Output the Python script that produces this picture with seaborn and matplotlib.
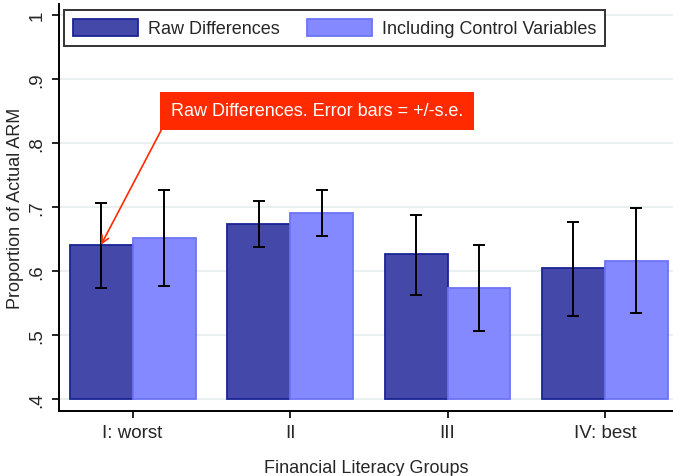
import pandas as pd
import matplotlib.pyplot as plt
import seaborn as sns

# values
groups = ["I: worst", "II", "III", "IV: best"]
series = ["Raw Differences", "Including Control Variables"]
raw_mean = [0.641, 0.674, 0.627, 0.605]
raw_lo = [0.573, 0.637, 0.562, 0.529]
raw_hi = [0.707, 0.710, 0.688, 0.677]
ctrl_mean = [0.652, 0.691, 0.574, 0.616]
ctrl_lo = [0.576, 0.654, 0.507, 0.534]
ctrl_hi = [0.727, 0.727, 0.640, 0.699]
y_ticks = [0.4, 0.5, 0.6, 0.7, 0.8, 0.9, 1.0]
y_ticklabels = [".4", ".5", ".6", ".7", ".8", ".9", "1"]

fills = {"Raw Differences": "#4448A8", "Including Control Variables": "#8589FF"}
edges = ["#1A2493", "#6C73F6"]
base = 0.4

sns.set_theme(style="white")
plt.rcParams["font.family"] = ["Liberation Sans", "DejaVu Sans"]

df = pd.DataFrame({
    "Group": groups * 2,
    "Series": [series[0]] * 4 + [series[1]] * 4,
    "Value": raw_mean + ctrl_mean,
    "Lo": raw_lo + ctrl_lo,
    "Hi": raw_hi + ctrl_hi,
})

fig = plt.figure(figsize=(6.73, 4.77), dpi=100)
ax = fig.add_axes([0.0877, 0.1373, 0.9123, 0.852])

sns.barplot(data=df, x="Group", y="Value", hue="Series", order=groups,
            hue_order=series, palette=fills, errorbar=None, width=0.8,
            saturation=1, legend=False, ax=ax)

# bars start at .4 like the original, and get their own edge colours
for cont, ec, s in zip(ax.containers, edges, series):
    sub = df[df["Series"] == s].set_index("Group").loc[groups]
    xs = []
    for rect in cont.patches:
        h = rect.get_height()
        rect.set_y(base)
        rect.set_height(h - base)
        rect.set_edgecolor(ec)
        rect.set_linewidth(1.3)
        rect.set_zorder(2)
        xs.append(rect.get_x() + rect.get_width() / 2)
    vals = sub["Value"].values
    yerr = [vals - sub["Lo"].values, sub["Hi"].values - vals]
    ax.errorbar(xs, vals, yerr=yerr, fmt="none", ecolor="black",
                elinewidth=1.4, capsize=4.5, capthick=1.4, zorder=3)

ax.set_xlim(-0.467, 3.432)
ax.set_ylim(0.382, 1.017)
ax.set_yticks(y_ticks)
ax.set_yticklabels(y_ticklabels, rotation=90, va="center")
ax.yaxis.grid(True, color="#E5EEEE", linewidth=1.2)
ax.set_axisbelow(True)

for side in ["top", "right"]:
    ax.spines[side].set_visible(False)
for side in ["left", "bottom"]:
    ax.spines[side].set_color("black")
    ax.spines[side].set_linewidth(1.4)
ax.tick_params(axis="both", which="major", direction="out", length=5,
               width=1.2, color="black", labelsize=13.5, pad=5, left=True,
               bottom=True)

ax.set_xlabel("Financial Literacy Groups", fontsize=13, labelpad=13)
ax.set_ylabel("Proportion of Actual ARM", fontsize=13, labelpad=3)

leg = ax.legend(handles=ax.containers, labels=series, loc="upper left",
                bbox_to_anchor=(0.008, 0.986), ncol=2, fontsize=13,
                handlelength=3.6, handleheight=1.05, handletextpad=0.55,
                columnspacing=1.5, borderpad=0.5, borderaxespad=0,
                fancybox=False, frameon=True)
leg.get_frame().set_edgecolor("black")
leg.get_frame().set_linewidth(1.4)

ax.annotate("Raw Differences. Error bars = +/-s.e.",
            xy=(-0.2, raw_mean[0]), xytext=(1.174, 0.85),
            ha="center", va="center", color="white", fontsize=13,
            bbox=dict(boxstyle="square,pad=0.6", fc="#FF2A00", ec="none"),
            arrowprops=dict(arrowstyle="->", color="#FF2A00", lw=1.2,
                            relpos=(0, 0.5), shrinkA=0, shrinkB=0),
            zorder=4)

fig.savefig("out.png", dpi=100)
